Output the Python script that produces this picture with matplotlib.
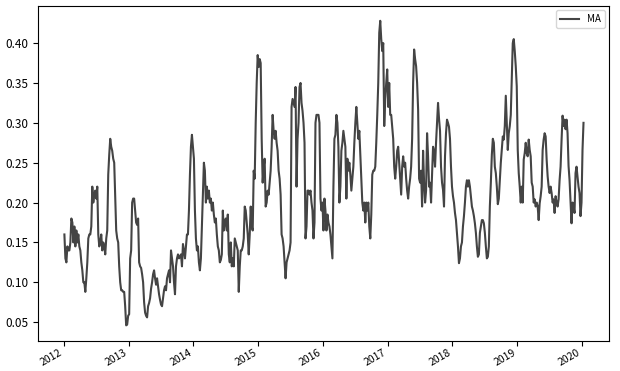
import numpy as np
import pandas as pd
import matplotlib
matplotlib.use("Agg")
import matplotlib.pyplot as plt
import matplotlib.dates as mdates

plt.rcParams['font.family'] = ['Noto Sans CJK SC', 'DejaVu Sans']

# ---------------- data (~1 px apart) ----------------
start_date = '2012-01-04'
end_date = '2020-01-10'

ma_2012_2015 = [
    0.16, 0.13, 0.125, 0.145, 0.14, 0.14, 0.15, 0.18, 0.175, 0.15, 0.17, 0.145, 0.165, 0.15, 0.16, 0.145,
    0.14, 0.125, 0.115, 0.10, 0.10, 0.088, 0.105, 0.125, 0.155, 0.16, 0.16, 0.17, 0.22, 0.20, 0.21, 0.215,
    0.205, 0.22, 0.16, 0.145, 0.15, 0.16, 0.14, 0.15, 0.145, 0.135, 0.155, 0.165, 0.235, 0.26, 0.28, 0.27,
    0.265, 0.255, 0.25, 0.205, 0.165, 0.155, 0.15, 0.12, 0.10, 0.09, 0.09, 0.088, 0.088, 0.07, 0.046, 0.047,
    0.058, 0.06, 0.13, 0.14, 0.20, 0.205, 0.205, 0.19, 0.175, 0.172, 0.18, 0.125, 0.12, 0.118, 0.11, 0.10,
    0.075, 0.062, 0.058, 0.056, 0.07, 0.074, 0.08, 0.092, 0.10, 0.11, 0.115, 0.105, 0.097, 0.105, 0.095, 0.085,
    0.078, 0.072, 0.07, 0.08, 0.09, 0.095, 0.09, 0.105, 0.11, 0.115, 0.10, 0.14, 0.13, 0.12, 0.10, 0.085,
    0.12, 0.13, 0.135, 0.13, 0.132, 0.135, 0.12, 0.148, 0.14, 0.13, 0.145, 0.16, 0.16, 0.19, 0.235, 0.27,
    0.285, 0.27, 0.255, 0.19, 0.155, 0.14, 0.145, 0.125, 0.115, 0.13, 0.17, 0.21, 0.25, 0.24, 0.20, 0.22,
    0.205, 0.215, 0.20, 0.205, 0.19, 0.20, 0.185, 0.175, 0.18, 0.16, 0.145, 0.14, 0.125, 0.128, 0.135, 0.19,
    0.165, 0.175, 0.18, 0.165, 0.185, 0.135, 0.125, 0.15, 0.12, 0.13, 0.12, 0.155, 0.15, 0.145, 0.14, 0.088,
    0.12, 0.14, 0.14, 0.145, 0.155, 0.195, 0.19, 0.175, 0.16, 0.135, 0.16, 0.195, 0.17, 0.165, 0.24, 0.23,
    0.30, 0.35, 0.385, 0.37, 0.38, 0.375, 0.28, 0.225, 0.245, 0.255, 0.195, 0.20, 0.215, 0.21, 0.225, 0.24,
    0.27, 0.31, 0.29, 0.28, 0.29, 0.275, 0.265, 0.24, 0.23, 0.21, 0.16, 0.155, 0.145, 0.125, 0.105, 0.125,
    0.13, 0.135, 0.14, 0.15, 0.32, 0.33, 0.325, 0.32, 0.345, 0.22, 0.28, 0.30, 0.345, 0.35, 0.325, 0.315,
    0.30, 0.275,
]

ma_2016_2020 = [
    0.155, 0.17, 0.215, 0.215, 0.21, 0.215, 0.20, 0.19, 0.155, 0.175, 0.30, 0.31, 0.31, 0.31, 0.30, 0.205,
    0.19, 0.20, 0.165, 0.205, 0.19, 0.165, 0.185, 0.175, 0.17, 0.16, 0.145, 0.13, 0.22, 0.28, 0.285, 0.31,
    0.30, 0.27, 0.20, 0.22, 0.265, 0.275, 0.29, 0.28, 0.27, 0.205, 0.255, 0.24, 0.25, 0.235, 0.215, 0.23,
    0.245, 0.275, 0.30, 0.32, 0.30, 0.28, 0.29, 0.26, 0.23, 0.20, 0.19, 0.20, 0.175, 0.20, 0.19, 0.20,
    0.17, 0.155, 0.185, 0.235, 0.24, 0.24, 0.245, 0.275, 0.31, 0.35, 0.413, 0.428, 0.405, 0.39, 0.40, 0.296,
    0.33, 0.35, 0.367, 0.32, 0.35, 0.31, 0.31, 0.295, 0.28, 0.245, 0.23, 0.245, 0.265, 0.27, 0.25, 0.23,
    0.21, 0.245, 0.258, 0.245, 0.25, 0.23, 0.215, 0.205, 0.22, 0.23, 0.245, 0.28, 0.35, 0.392, 0.38, 0.371,
    0.35, 0.317, 0.23, 0.225, 0.24, 0.195, 0.265, 0.225, 0.20, 0.215, 0.287, 0.258, 0.22, 0.225, 0.20, 0.237,
    0.27, 0.265, 0.245, 0.275, 0.30, 0.325, 0.305, 0.29, 0.245, 0.225, 0.216, 0.195, 0.258, 0.287, 0.304, 0.30,
    0.295, 0.28, 0.245, 0.22, 0.208, 0.20, 0.187, 0.178, 0.162, 0.145, 0.124, 0.13, 0.145, 0.15, 0.17, 0.183,
    0.20, 0.22, 0.228, 0.22, 0.228, 0.22, 0.208, 0.195, 0.19, 0.183, 0.174, 0.162, 0.145, 0.132, 0.135, 0.162,
    0.17, 0.178, 0.178, 0.174, 0.162, 0.145, 0.13, 0.132, 0.145, 0.195, 0.225, 0.26, 0.28, 0.275, 0.245, 0.237,
    0.22, 0.198, 0.205, 0.228, 0.25, 0.266, 0.283, 0.279, 0.296, 0.334, 0.30, 0.266, 0.287, 0.296, 0.31, 0.355,
    0.40, 0.405, 0.39, 0.371, 0.346, 0.266, 0.237, 0.22, 0.20, 0.22, 0.20, 0.254, 0.262, 0.275, 0.262, 0.258,
    0.279, 0.266, 0.258, 0.225, 0.22, 0.20, 0.204, 0.195, 0.20, 0.195, 0.178, 0.199, 0.208, 0.22, 0.266, 0.279,
    0.287, 0.283, 0.254, 0.233, 0.22, 0.212, 0.22, 0.212, 0.20, 0.204, 0.187, 0.208, 0.20, 0.195, 0.204, 0.228,
    0.245, 0.279, 0.309, 0.296, 0.304, 0.292, 0.304, 0.287, 0.246, 0.228, 0.20, 0.174, 0.20, 0.195, 0.187, 0.237,
    0.245, 0.233, 0.22, 0.212, 0.183, 0.20, 0.266, 0.30,
]

ma = ma_2012_2015 + ma_2016_2020
dates = pd.date_range(start_date, end_date, periods=len(ma))
series = pd.Series(ma, index=dates)

# ---------------- plot ----------------
fig = plt.figure(figsize=(6.2, 3.71), dpi=100)
ax = fig.add_axes([0.062, 0.082, 0.921, 0.903])

ax.plot(series.index, series.values, color='#444444', linewidth=1.5, label='MA')

ax.xaxis.set_major_locator(mdates.YearLocator())
ax.xaxis.set_major_formatter(mdates.DateFormatter('%Y'))
ax.tick_params(axis='y', labelsize=8.5)
ax.tick_params(axis='x', labelsize=7.5, pad=1.5)
for lab in ax.get_xticklabels():
    lab.set_rotation(30)
    lab.set_ha('right')

ax.legend(loc='upper right', fontsize=7)

fig.savefig('out.png', dpi=100)
